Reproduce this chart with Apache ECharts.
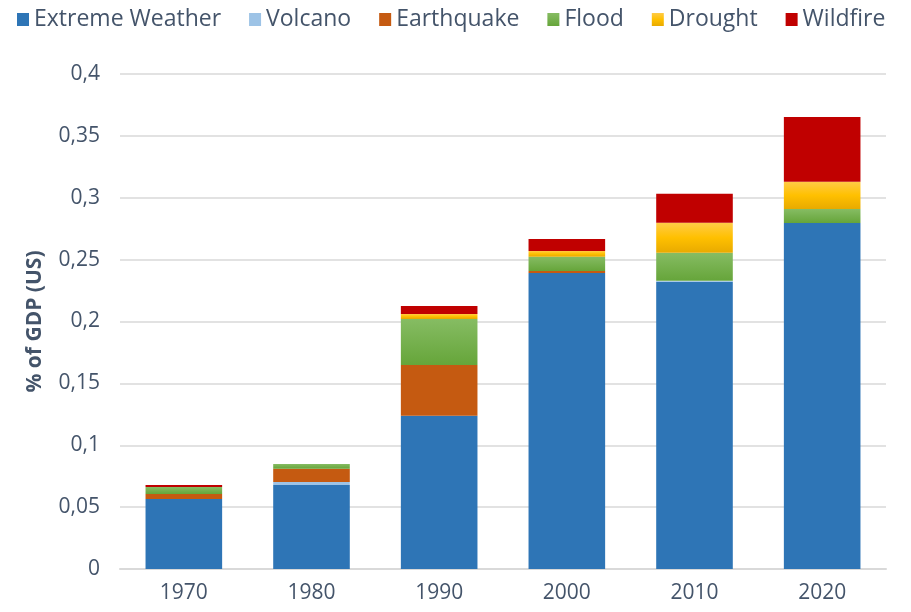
<!DOCTYPE html>
<html>
<head>
<meta charset="utf-8">
<script src="https://cdn.jsdelivr.net/npm/echarts@6/dist/echarts.min.js"></script>
<style>
  html, body { margin: 0; padding: 0; background: #fff; }
  #chart { width: 911px; height: 612px; }
</style>
</head>
<body>
<div id="chart"></div>
<script>
// Decades on the category axis
const decades = ['1970', '1980', '1990', '2000', '2010', '2020'];

// Losses by hazard type, as % of US GDP
const extremeWeather = [0.0566, 0.0679, 0.1239, 0.2392, 0.2322, 0.2796];
const volcano        = [0, 0.0024, 0, 0, 0.0008, 0];
const earthquake     = [0.0040, 0.0108, 0.0410, 0.0016, 0, 0];
const flood          = [0.0057, 0.0038, 0.0372, 0.0116, 0.0226, 0.0113];
const drought        = [0, 0, 0.0040, 0.0046, 0.0242, 0.0221];
const wildfire       = [0.0016, 0, 0.0065, 0.0097, 0.0234, 0.0523];

// Value axis range
const yMin = 0, yMax = 0.4, yStep = 0.05;

const textColor = '#44546A';
const font = '"Open Sans", "Noto Sans", sans-serif';

const grad = (stops) => new echarts.graphic.LinearGradient(0, 0, 0, 1,
  stops.map(([offset, color]) => ({ offset, color })));

const seriesDefs = [
  { name: 'Extreme Weather', data: extremeWeather, color: '#2E75B6' },
  { name: 'Volcano',         data: volcano,        color: '#9DC3E6' },
  { name: 'Earthquake',      data: earthquake,     color: '#C55A11' },
  { name: 'Flood',           data: flood,
    color: grad([[0, '#86BC63'], [1, '#66A53A']]) },
  { name: 'Drought',         data: drought,
    color: grad([[0, '#FFCB47'], [0.5, '#FFC000'], [1, '#E8AA00']]) },
  { name: 'Wildfire',        data: wildfire,       color: '#C00000' }
];

const chart = echarts.init(document.getElementById('chart'), null, { renderer: 'canvas' });

chart.setOption({
  animation: false,
  backgroundColor: '#ffffff',
  textStyle: { fontFamily: font },
  legend: {
    top: 3,
    left: 12,
    icon: 'rect',
    itemWidth: 12,
    itemHeight: 13,
    itemGap: 28,
    textStyle: { color: textColor, fontSize: 23, fontFamily: font },
    data: seriesDefs.map(s => s.name)
  },
  grid: { left: 120, right: 25, top: 74, bottom: 43, containLabel: false },
  xAxis: {
    type: 'category',
    data: decades,
    axisLine: { show: true, lineStyle: { color: '#D9D9D9', width: 2 } },
    axisTick: { show: false },
    axisLabel: { color: textColor, fontSize: 21, margin: 14, fontFamily: font }
  },
  yAxis: {
    type: 'value',
    min: yMin,
    max: yMax,
    interval: yStep,
    name: '% of GDP (US)',
    nameLocation: 'middle',
    nameGap: 74,
    nameTextStyle: { color: textColor, fontSize: 21, fontWeight: 'bold', fontFamily: font },
    axisLine: { show: false },
    axisTick: { show: false },
    splitLine: { lineStyle: { color: '#D9D9D9', width: 1.5 } },
    axisLabel: {
      color: textColor,
      fontSize: 21,
      margin: 20,
      fontFamily: font,
      formatter: v => String(+v.toFixed(2)).replace('.', ',')
    }
  },
  series: seriesDefs.map(s => ({
    name: s.name,
    type: 'bar',
    stack: 'total',
    barCategoryGap: '40%',
    data: s.data,
    itemStyle: { color: s.color },
    emphasis: { disabled: true }
  }))
});
</script>
</body>
</html>
